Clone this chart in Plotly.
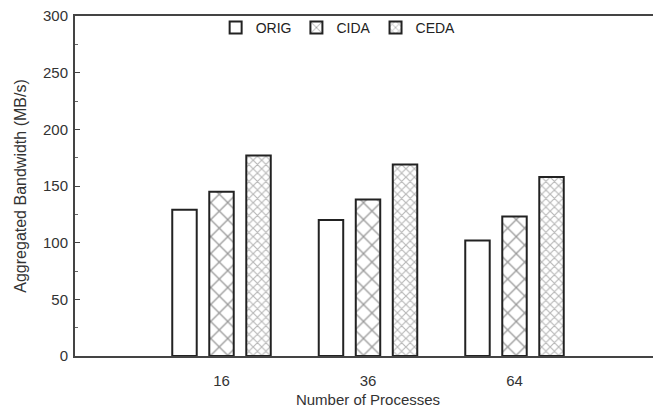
import plotly.graph_objects as go

categories = ["16", "36", "64"]
series_names = ["ORIG", "CIDA", "CEDA"]
orig = [129, 120, 102]
cida = [145, 138, 123]
ceda = [177, 169, 158]
y_ticks = [0, 50, 100, 150, 200, 250, 300]

values = [orig, cida, ceda]
patterns = [
    dict(shape=""),
    dict(shape="x", size=12, solidity=0.2, fgcolor="#333333", bgcolor="white"),
    dict(shape="x", size=6, solidity=0.35, fgcolor="#707070", bgcolor="white"),
]

font = "Liberation Sans, Arial, sans-serif"
fig = go.Figure()
for name, vals, pat in zip(series_names, values, patterns):
    fig.add_trace(go.Bar(
        x=categories, y=vals, name=name,
        marker=dict(color="white", line=dict(color="#222222", width=2), pattern=pat),
    ))

# the page body has an 8px default margin, so the figure is sized to fit the window
fig.update_layout(
    width=653, height=401,
    margin=dict(l=67, r=0, t=8, b=53),
    paper_bgcolor="white", plot_bgcolor="white",
    barmode="group", bargap=0.242, bargroupgap=0.339,
    font=dict(family=font, size=15, color="#333333"),
    showlegend=True,
    legend=dict(orientation="h", x=0.24, y=1.012, xanchor="left", yanchor="top",
                font=dict(size=14, color="#222222"), bgcolor="rgba(0,0,0,0)",
                traceorder="normal"),
)
fig.update_xaxes(
    type="category", range=[-1, 3], automargin=False,
    showline=True, linecolor="#444444", linewidth=2, mirror=True,
    ticks="", showgrid=False, zeroline=False, ticklabelstandoff=10,
    ticklabeloverflow="allow",
    title=dict(text="Number of Processes", standoff=6, font=dict(size=15)),
    tickfont=dict(size=15),
)
fig.update_yaxes(
    range=[0, 300], tickvals=y_ticks, ticktext=[str(v) for v in y_ticks],
    automargin=False, ticklabeloverflow="allow",
    showline=True, linecolor="#444444", linewidth=2, mirror=False,
    ticks="inside", ticklen=5, tickcolor="#444444", tickwidth=1, ticklabelstandoff=2,
    minor=dict(dtick=25, ticks="inside", ticklen=3, tickcolor="#666666", showgrid=False),
    showgrid=False, zeroline=False,
    title=dict(text="Aggregated Bandwidth (MB/s)", standoff=12, font=dict(size=16)),
    tickfont=dict(size=15),
)

fig.write_html("out.html")
